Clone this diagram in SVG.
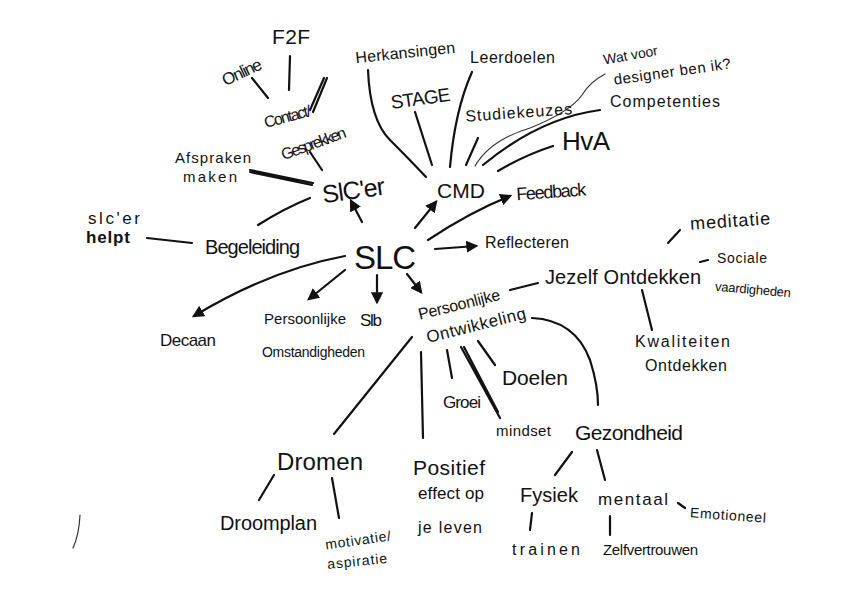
<svg xmlns="http://www.w3.org/2000/svg" width="842" height="595" viewBox="0 0 842 595">
<defs>
<marker id="ah" viewBox="0 0 10 10" refX="8" refY="5" markerWidth="5.5" markerHeight="5.5" orient="auto" markerUnits="strokeWidth">
<path d="M0,0 L10,5 L0,10 Z" fill="#111"/>
</marker>
<style>
.t{font-family:"Liberation Sans","DejaVu Sans",sans-serif;fill:#111;}
.c{fill:none;stroke:#111;stroke-width:2.2;stroke-linecap:round;}
.a{fill:none;stroke:#111;stroke-width:2.2;stroke-linecap:round;marker-end:url(#ah);}
.thin{fill:none;stroke:#333;stroke-width:1.2;stroke-linecap:round;}
</style>
</defs>
<rect width="842" height="595" fill="#fff"/>
<g id="connectors">
<path class="c" d="M252,78 L268,98"/>
<path class="c" d="M290,56 L289,90"/>
<path class="c" d="M327,78 L313,112 M324,78 L310,110"/>
<path class="c" d="M310,152 L322,170"/>
<path class="c" d="M250,170 L313,183 M250,172 L312,185"/>
<path class="c" d="M258,225 Q285,208 310,198"/>
<path class="c" d="M147,238 L192,243"/>
<path class="a" d="M362,222 L351,201"/>
<path class="a" d="M415,228 L436,202"/>
<path class="a" d="M428,240 Q470,212 510,196"/>
<path class="a" d="M435,249 L476,246"/>
<path class="a" d="M345,256 Q270,270 194,316"/>
<path class="a" d="M345,270 L309,299"/>
<path class="a" d="M377,275 L377,302"/>
<path class="a" d="M407,274 L421,292"/>
<path class="c" d="M368,70 Q370,120 390,140 Q410,160 426,177"/>
<path class="c" d="M415,112 L432,165"/>
<path class="c" d="M472,72 Q455,110 450,167"/>
<path class="c" d="M478,138 L466,165"/>
<path class="thin" d="M605,74 Q590,82 582,95 Q570,112 530,128 Q490,140 475,166"/>
<path class="c" d="M600,110 Q540,118 483,165"/>
<path class="c" d="M553,146 Q525,155 498,171"/>
<path class="c" d="M510,290 L538,283"/>
<path class="c" d="M668,243 L680,230"/>
<path class="c" d="M700,262 L708,260"/>
<path class="c" d="M642,290 L652,330"/>
<path class="c" d="M478,341 L495,365"/>
<path class="c" d="M447,350 L452,378"/>
<path class="c" d="M461,347 L500,418 M464,347 L498,412"/>
<path class="c" d="M532,318 Q575,320 590,360 Q598,385 598,405"/>
<path class="c" d="M421,352 L423,438"/>
<path class="c" d="M412,337 L334,434"/>
<path class="c" d="M274,475 L259,500"/>
<path class="c" d="M332,478 L339,518"/>
<path class="c" d="M572,452 L555,475"/>
<path class="c" d="M597,450 L605,480"/>
<path class="c" d="M678,503 L685,508"/>
<path class="c" d="M532,513 L530,530"/>
<path class="c" d="M610,516 L610,535"/>
<path class="thin" d="M80,515 Q79,535 73,548" stroke="#bbb"/>
</g>
<g id="online"><text class="t" font-size="17" x="220" y="78" textLength="42" transform="rotate(-25 241 70)">Online</text></g>
<g id="f2f"><text class="t" font-size="21" x="272" y="44" textLength="38">F2F</text></g>
<g id="contact"><text class="t" font-size="16" x="263" y="122" textLength="48" transform="rotate(-15 287 115)">Contact/</text><text class="t" font-size="16" x="279" y="149" textLength="68" transform="rotate(-20 313 142)">Gesprekken</text></g>
<g id="afspraken"><text class="t" font-size="15" x="175" y="163" textLength="76">Afspraken</text><text class="t" font-size="15" x="183" y="182" textLength="54">maken</text></g>
<g id="slcer"><text class="t" font-size="25" x="322" y="199" textLength="63" transform="rotate(-8 353 190)">SlC'er</text></g>
<g id="slcerhelpt"><text class="t" font-size="17" x="88" y="224" textLength="52">slc'er</text><text class="t" font-size="17" x="86" y="243" textLength="44" font-weight="bold">helpt</text></g>
<g id="begeleiding"><text class="t" font-size="20" x="205" y="254" textLength="95">Begeleiding</text></g>
<g id="slc"><text class="t" font-size="33" x="354" y="269" textLength="62">SLC</text></g>
<g id="decaan"><text class="t" font-size="17" x="160" y="346" textLength="56">Decaan</text></g>
<g id="omstandigheden"><text class="t" font-size="15" x="264" y="324" textLength="82">Persoonlijke</text><text class="t" font-size="14" x="262" y="357" textLength="103">Omstandigheden</text></g>
<g id="slb"><text class="t" font-size="17" x="360" y="326" textLength="22">Slb</text></g>
<g id="ontwikkeling"><text class="t" font-size="16" x="416" y="310" textLength="84" transform="rotate(-14 458 300)">Persoonlijke</text><text class="t" font-size="17" x="424" y="331" textLength="102" transform="rotate(-14 475 321)">Ontwikkeling</text></g>
<g id="cmd"><text class="t" font-size="21" x="437" y="198" textLength="48">CMD</text></g>
<g id="herkansingen"><text class="t" font-size="16" x="355" y="58" textLength="100" transform="rotate(-6 405 50)">Herkansingen</text></g>
<g id="stage"><text class="t" font-size="19" x="390" y="105" textLength="60" transform="rotate(-8 420 95)">STAGE</text></g>
<g id="leerdoelen"><text class="t" font-size="16" x="470" y="63" textLength="85">Leerdoelen</text></g>
<g id="studiekeuzes"><text class="t" font-size="16" x="465" y="118" textLength="107" transform="rotate(-4 518 110)">Studiekeuzes</text></g>
<g id="designer"><text class="t" font-size="14" x="603" y="60" textLength="55" transform="rotate(-10 630 55)">Wat voor</text><text class="t" font-size="15" x="613" y="77" textLength="118" transform="rotate(-8 670 70)">designer ben ik?</text></g>
<g id="competenties"><text class="t" font-size="16" x="610" y="107" textLength="110">Competenties</text></g>
<g id="hva"><text class="t" font-size="26" x="562" y="150" textLength="48">HvA</text></g>
<g id="feedback"><text class="t" font-size="18" x="516" y="198" textLength="70" transform="rotate(-4 550 190)">Feedback</text></g>
<g id="reflecteren"><text class="t" font-size="16" x="485" y="248" textLength="84">Reflecteren</text></g>
<g id="jezelf"><text class="t" font-size="20" x="545" y="284" textLength="156">Jezelf Ontdekken</text></g>
<g id="meditatie"><text class="t" font-size="18" x="690" y="227" textLength="80" transform="rotate(-4 730 220)">meditatie</text></g>
<g id="sociale"><text class="t" font-size="14" x="717" y="263" textLength="50">Sociale</text><text class="t" font-size="13" x="715" y="294" textLength="76" transform="rotate(5 753 290)">vaardigheden</text></g>
<g id="kwaliteiten"><text class="t" font-size="16" x="635" y="347" textLength="95">Kwaliteiten</text><text class="t" font-size="16" x="645" y="371" textLength="82">Ontdekken</text></g>
<g id="doelen"><text class="t" font-size="21" x="502" y="385" textLength="66">Doelen</text></g>
<g id="groei"><text class="t" font-size="17" x="443" y="408" textLength="38">Groei</text></g>
<g id="mindset"><text class="t" font-size="15" x="496" y="436" textLength="55">mindset</text></g>
<g id="gezondheid"><text class="t" font-size="21" x="575" y="440" textLength="108">Gezondheid</text></g>
<g id="dromen"><text class="t" font-size="24" x="277" y="470" textLength="86">Dromen</text></g>
<g id="droomplan"><text class="t" font-size="20" x="220" y="530" textLength="97">Droomplan</text></g>
<g id="motivatie"><text class="t" font-size="14" x="325" y="545" textLength="66" transform="rotate(-8 358 540)">motivatie/</text><text class="t" font-size="14" x="327" y="566" textLength="60" transform="rotate(-6 357 560)">aspiratie</text></g>
<g id="positief"><text class="t" font-size="21" x="413" y="475" textLength="72">Positief</text><text class="t" font-size="17" x="418" y="499" textLength="66">effect op</text><text class="t" font-size="16" x="418" y="533" textLength="64">je leven</text></g>
<g id="fysiek"><text class="t" font-size="20" x="520" y="502" textLength="58">Fysiek</text></g>
<g id="mentaal"><text class="t" font-size="17" x="598" y="505" textLength="70">mentaal</text></g>
<g id="emotioneel"><text class="t" font-size="14" x="690" y="520" textLength="76" transform="rotate(4 728 515)">Emotioneel</text></g>
<g id="trainen"><text class="t" font-size="16" x="512" y="555" textLength="68">trainen</text></g>
<g id="zelfvertrouwen"><text class="t" font-size="15" x="603" y="555" textLength="95">Zelfvertrouwen</text></g>
</svg>
